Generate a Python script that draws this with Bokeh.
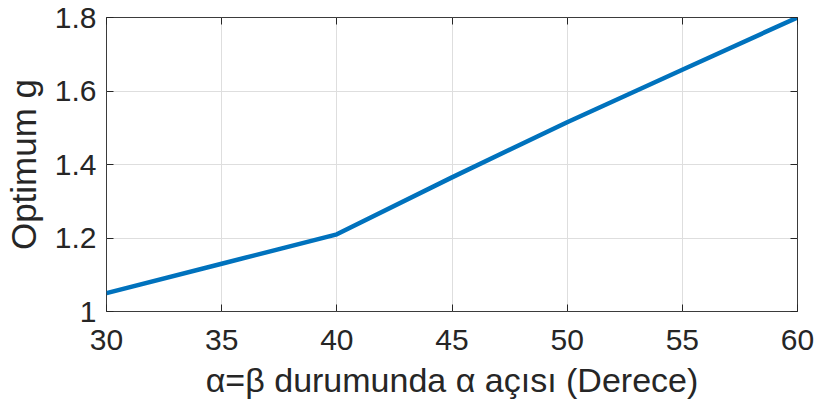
from bokeh.plotting import figure
from bokeh.models import FixedTicker, LinearAxis, CustomJSTickFormatter, Range1d
from bokeh.embed import file_html
from bokeh.resources import INLINE

# Data
angles = [30, 35, 40, 45, 50, 55, 60]
optimum_g = [1.05, 1.13, 1.21, 1.365, 1.515, 1.658, 1.80]

x_ticks = [30, 35, 40, 45, 50, 55, 60]
y_ticks = [1.0, 1.2, 1.4, 1.6, 1.8]

x_label = "α=β durumunda α açısı (Derece)"
y_label = "Optimum g"

FONT = "Liberation Sans"
TXT = "#262626"

p = figure(width=817, height=408, output_backend="svg", toolbar_location=None,
           x_range=Range1d(30, 60), y_range=Range1d(1.0, 1.8),
           min_border_left=101, min_border_right=20, min_border_top=17, min_border_bottom=97,
           x_axis_label=x_label, y_axis_label=y_label)

p.line(angles, optimum_g, line_color="#0072BD", line_width=4.5)

p.outline_line_color = TXT
p.outline_line_width = 1
p.outline_line_alpha = 0.9
p.background_fill_color = "white"
p.border_fill_color = "white"

fmt = CustomJSTickFormatter(code="return String(Math.round(tick*100)/100);")

for ax in p.xaxis:
    ax.ticker = FixedTicker(ticks=x_ticks)
for ax in p.yaxis:
    ax.ticker = FixedTicker(ticks=y_ticks)
    ax.formatter = fmt

for ax in p.axis:
    ax.axis_line_color = None
    ax.major_tick_in = 7
    ax.major_tick_out = 0
    ax.minor_tick_line_color = None
    ax.major_tick_line_color = TXT
    ax.major_label_text_font = FONT
    ax.major_label_text_font_size = "30px"
    ax.major_label_text_color = TXT
    ax.axis_label_text_font = FONT
    ax.axis_label_text_font_style = "normal"
    ax.axis_label_text_color = TXT

p.xaxis.axis_label_text_font_size = "34px"
p.yaxis.axis_label_text_font_size = "35px"
p.xaxis.major_label_standoff = 18
p.xaxis.axis_label_standoff = 8
p.yaxis.major_label_standoff = 10
p.yaxis.axis_label_standoff = 9

# mirrored ticks on top and right (box style)
blank = CustomJSTickFormatter(code="return '';")
top = LinearAxis(ticker=FixedTicker(ticks=x_ticks), formatter=blank)
right = LinearAxis(ticker=FixedTicker(ticks=y_ticks), formatter=blank)
for ax in (top, right):
    ax.axis_line_color = None
    ax.major_tick_in = 7
    ax.major_tick_out = 0
    ax.minor_tick_line_color = None
    ax.major_tick_line_color = TXT
    ax.major_label_text_font_size = "1px"
    ax.major_label_standoff = 0
    ax.axis_label_standoff = 0
p.add_layout(top, "above")
p.add_layout(right, "right")

p.xgrid.ticker = FixedTicker(ticks=x_ticks)
p.ygrid.ticker = FixedTicker(ticks=y_ticks)
p.grid.grid_line_color = "#dedede"
p.grid.grid_line_width = 1

open("out.html", "w").write(file_html(p, INLINE))
